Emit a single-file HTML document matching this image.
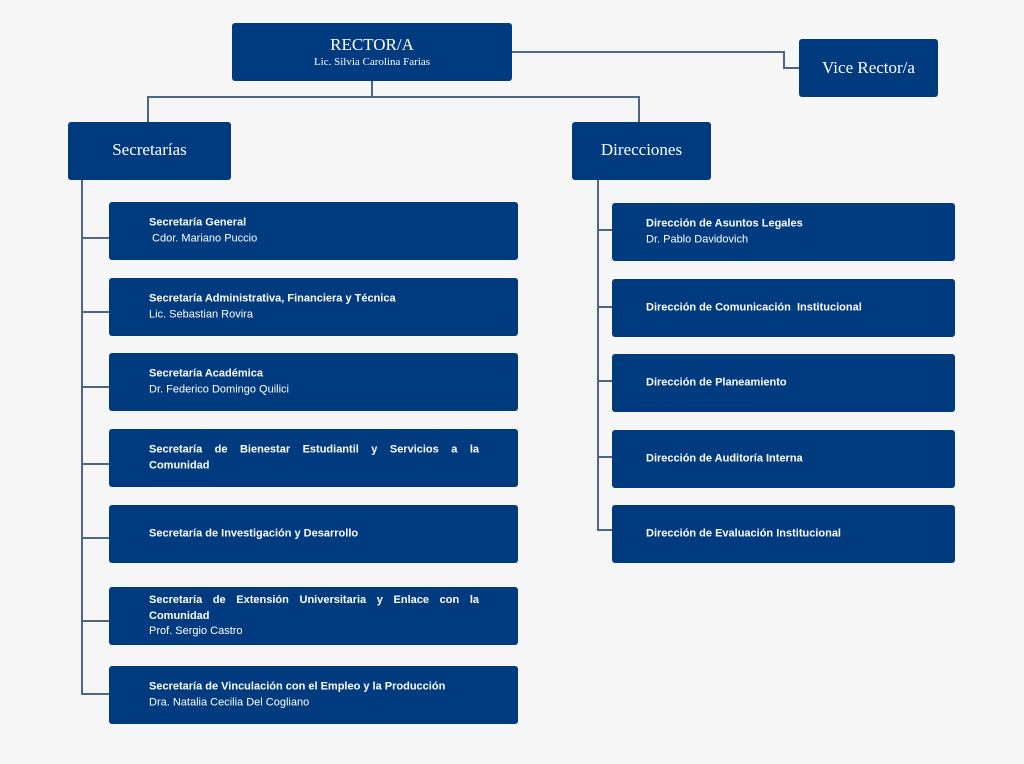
<!DOCTYPE html>
<html><head><meta charset="utf-8"><style>
body{margin:0;width:1024px;height:764px;background:#f6f6f7;position:relative;overflow:hidden;font-family:"Liberation Sans",sans-serif}
.b{position:absolute;background:#003b80;border-radius:3px;color:#fff;box-sizing:border-box}
.l{position:absolute;background:#4f6586}
.serif{font-family:"Liberation Serif",serif;text-align:center}
.t{position:absolute;left:40px;width:330px;font-size:11px;line-height:15.5px;top:50%;transform:translateY(-50%)}
.t b{display:block}
.jl{display:block;text-align:justify;text-align-last:justify}
</style></head><body>
<!-- lines -->
<div class="l" style="left:511px;top:51px;width:273px;height:2px"></div>
<div class="l" style="left:783px;top:51px;width:2px;height:18px"></div>
<div class="l" style="left:783px;top:67px;width:16px;height:2px"></div>
<div class="l" style="left:371px;top:81px;width:2px;height:17px"></div>
<div class="l" style="left:147px;top:96px;width:493px;height:2px"></div>
<div class="l" style="left:147px;top:96px;width:2px;height:26px"></div>
<div class="l" style="left:638px;top:96px;width:2px;height:26px"></div>
<div class="l" style="left:81px;top:180px;width:2px;height:515px"></div>
<div class="l" style="left:597px;top:180px;width:2px;height:351px"></div>
<div class="l" style="left:81px;top:237px;width:28px;height:2px"></div>
<div class="l" style="left:81px;top:311px;width:28px;height:2px"></div>
<div class="l" style="left:81px;top:386px;width:28px;height:2px"></div>
<div class="l" style="left:81px;top:463px;width:28px;height:2px"></div>
<div class="l" style="left:81px;top:537px;width:28px;height:2px"></div>
<div class="l" style="left:81px;top:620px;width:28px;height:2px"></div>
<div class="l" style="left:81px;top:693px;width:28px;height:2px"></div>
<div class="l" style="left:597px;top:229px;width:15px;height:2px"></div>
<div class="l" style="left:597px;top:306px;width:15px;height:2px"></div>
<div class="l" style="left:597px;top:380px;width:15px;height:2px"></div>
<div class="l" style="left:597px;top:456px;width:15px;height:2px"></div>
<div class="l" style="left:597px;top:529px;width:15px;height:2px"></div>
<!-- top boxes -->
<div class="b serif" style="left:232px;top:23px;width:280px;height:58px;padding-top:12px">
<div style="font-size:17px;line-height:20px">RECTOR/A</div>
<div style="font-size:11px;line-height:14px">Lic. Silvia Carolina Farias</div></div>
<div class="b serif" style="left:799px;top:39px;width:139px;height:58px;font-size:17px;line-height:58px">Vice Rector/a</div>
<div class="b serif" style="left:68px;top:122px;width:163px;height:58px;font-size:17px;line-height:56px">Secretarías</div>
<div class="b serif" style="left:572px;top:122px;width:139px;height:58px;font-size:17px;line-height:56px">Direcciones</div>
<!-- secretarias -->
<div class="b" style="left:109px;top:202px;width:409px;height:58px"><div class="t"><b>Secretaría General</b>&nbsp;Cdor. Mariano Puccio</div></div>
<div class="b" style="left:109px;top:278px;width:409px;height:58px"><div class="t"><b>Secretaría Administrativa, Financiera y Técnica</b>Lic. Sebastian Rovira</div></div>
<div class="b" style="left:109px;top:353px;width:409px;height:58px"><div class="t"><b>Secretaría Académica</b>Dr. Federico Domingo Quilici</div></div>
<div class="b" style="left:109px;top:429px;width:409px;height:58px"><div class="t"><b><span class="jl">Secretaría de Bienestar Estudiantil y Servicios a la</span>Comunidad</b></div></div>
<div class="b" style="left:109px;top:505px;width:409px;height:58px"><div class="t"><b>Secretaría de Investigación y Desarrollo</b></div></div>
<div class="b" style="left:109px;top:587px;width:409px;height:58px"><div class="t"><b><span class="jl">Secretaría de Extensión Universitaria y Enlace con la</span>Comunidad</b>Prof. Sergio Castro</div></div>
<div class="b" style="left:109px;top:666px;width:409px;height:58px"><div class="t"><b>Secretaría de Vinculación con el Empleo y la Producción</b>Dra. Natalia Cecilia Del Cogliano</div></div>
<!-- direcciones -->
<div class="b" style="left:612px;top:203px;width:343px;height:58px;"><div class="t" style="left:34px;width:300px"><b>Dirección de Asuntos Legales</b>Dr. Pablo Davidovich</div></div>
<div class="b" style="left:612px;top:279px;width:343px;height:58px;"><div class="t" style="left:34px;width:300px"><b>Dirección de Comunicación&nbsp; Institucional</b></div></div>
<div class="b" style="left:612px;top:354px;width:343px;height:58px;"><div class="t" style="left:34px;width:300px"><b>Dirección de Planeamiento</b></div></div>
<div class="b" style="left:612px;top:430px;width:343px;height:58px;"><div class="t" style="left:34px;width:300px"><b>Dirección de Auditoría Interna</b></div></div>
<div class="b" style="left:612px;top:505px;width:343px;height:58px;"><div class="t" style="left:34px;width:300px"><b>Dirección de Evaluación Institucional</b></div></div>
</body></html>
